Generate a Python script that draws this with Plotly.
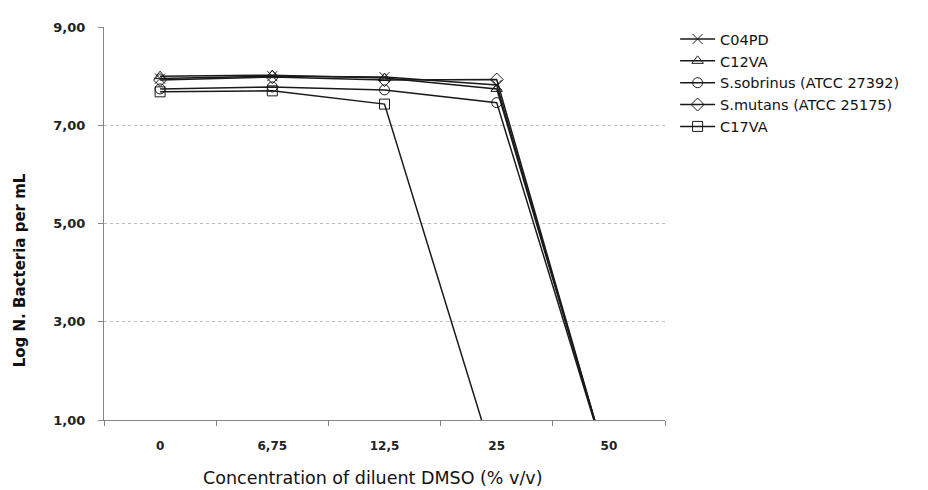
import plotly.graph_objects as go

categories = ["0", "6,75", "12,5", "25", "50"]
series_names = ["C04PD", "C12VA", "S.sobrinus (ATCC 27392)", "S.mutans (ATCC 25175)", "C17VA"]
c04pd = [7.95, 8.00, 7.98, 7.82, 0.0]
c12va = [8.00, 8.02, 7.96, 7.74, 0.0]
s_sobrinus = [7.74, 7.78, 7.72, 7.46, 0.0]
s_mutans = [7.92, 7.98, 7.92, 7.93, 0.0]
c17va = [7.68, 7.70, 7.43, 0.0, 0.0]
y_tickvals = [1, 3, 5, 7, 9]
y_ticktext = ["1,00", "3,00", "5,00", "7,00", "9,00"]
x_title = "Concentration of diluent DMSO (% v/v)"
y_title = "Log N. Bacteria per mL"

symbols = ["x-thin-open", "triangle-up-open", "circle-open", "diamond-open", "square-open"]
values = [c04pd, c12va, s_sobrinus, s_mutans, c17va]

FONT = "'DejaVu Sans', sans-serif"

fig = go.Figure()
for name, vals, sym in zip(series_names, values, symbols):
    fig.add_trace(go.Scatter(
        x=categories, y=vals, name=name, mode="lines+markers",
        line=dict(color="#1a1a1a", width=1.5),
        marker=dict(symbol=sym, size=10, color="#1a1a1a",
                    line=dict(color="#1a1a1a", width=1)),
        cliponaxis=True,
    ))

# page body adds an 8px margin around the figure
fig.update_layout(
    width=912, height=484,
    margin=dict(l=96, r=255, t=13, b=72),
    paper_bgcolor="white", plot_bgcolor="white",
    font=dict(family=FONT, color="#222222"),
    showlegend=True,
    legend=dict(x=1.018, y=1.01, xanchor="left", yanchor="top",
                font=dict(size=14.5, color="#111111", family=FONT),
                bgcolor="rgba(0,0,0,0)", itemwidth=35, tracegroupgap=0),
    xaxis=dict(
        type="category", range=[-0.5, 4.5], tickson="boundaries",
        ticks="outside", ticklen=5,
        tickcolor="#868686", showline=True, linecolor="#868686", linewidth=1,
        showgrid=False, zeroline=False, ticklabelstandoff=15,
        tickfont=dict(size=12, color="#222222", family=FONT, weight="bold"),
    ),
    yaxis=dict(
        range=[1, 9], tickvals=y_tickvals, ticktext=y_ticktext,
        ticks="outside", ticklen=5, tickcolor="#868686",
        showline=True, linecolor="#868686", linewidth=1,
        showgrid=True, gridcolor="#bdbdbd", griddash="dot", gridwidth=1,
        zeroline=False, ticklabelstandoff=10,
        tickfont=dict(size=13, color="#222222", family=FONT, weight="bold"),
    ),
    annotations=[
        dict(text=x_title, xref="paper", yref="paper", x=0.4795, y=-0.148,
             xanchor="center", yanchor="middle", showarrow=False,
             font=dict(size=17.5, color="#111111", family=FONT)),
        dict(text=y_title, xref="paper", yref="paper", x=-0.1497, y=0.381,
             xanchor="center", yanchor="middle", showarrow=False, textangle=-90,
             font=dict(size=15, color="#111111", family=FONT, weight="bold")),
    ],
)

fig.write_html("out.html")
